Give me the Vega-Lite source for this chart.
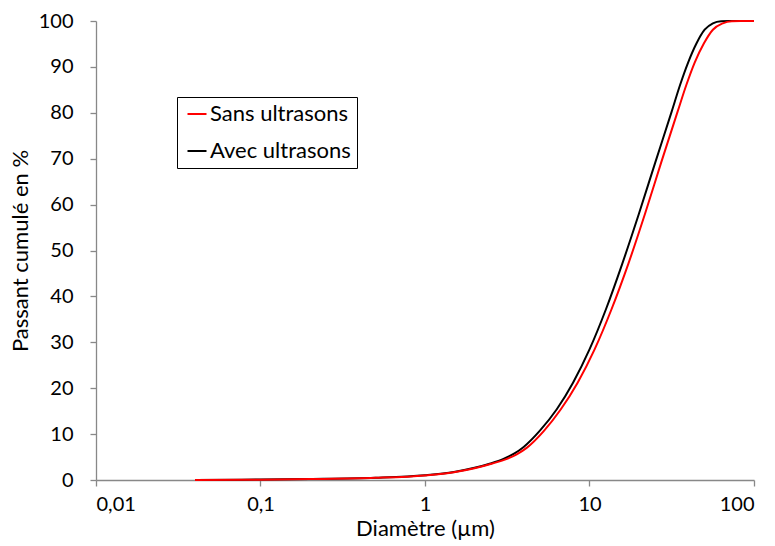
{
  "$schema": "https://vega.github.io/schema/vega-lite/v6.json",
  "width": 658,
  "height": 459,
  "autosize": "none",
  "padding": {"left": 96, "top": 21, "right": 21, "bottom": 66},
  "background": "white",
  "config": {
    "view": {"stroke": null},
    "font": "Lato",
    "axis": {"grid": false, "domainColor": "#888888", "tickColor": "#888888", "labelColor": "black", "titleColor": "black", "labelFont": "Lato", "titleFont": "Lato", "labelFontSize": 20, "titleFontSize": 22, "titleFontWeight": "normal", "tickSize": 6, "domainWidth": 1.3, "tickWidth": 1.3}
  },
  "data": {
    "values": [
      {"d": 0.04, "p": 0, "s": "Avec ultrasons"},
      {"d": 0.1, "p": 0.1, "s": "Avec ultrasons"},
      {"d": 0.2, "p": 0.22, "s": "Avec ultrasons"},
      {"d": 0.5, "p": 0.5, "s": "Avec ultrasons"},
      {"d": 1, "p": 1.05, "s": "Avec ultrasons"},
      {"d": 1.5, "p": 1.75, "s": "Avec ultrasons"},
      {"d": 2, "p": 2.65, "s": "Avec ultrasons"},
      {"d": 2.5, "p": 3.6, "s": "Avec ultrasons"},
      {"d": 3, "p": 4.6, "s": "Avec ultrasons"},
      {"d": 3.5, "p": 5.8, "s": "Avec ultrasons"},
      {"d": 3.98, "p": 7.2, "s": "Avec ultrasons"},
      {"d": 5.01, "p": 10.8, "s": "Avec ultrasons"},
      {"d": 6.31, "p": 15.35, "s": "Avec ultrasons"},
      {"d": 7.94, "p": 21.2, "s": "Avec ultrasons"},
      {"d": 10, "p": 28.45, "s": "Avec ultrasons"},
      {"d": 12.59, "p": 37.2, "s": "Avec ultrasons"},
      {"d": 15.85, "p": 47.2, "s": "Avec ultrasons"},
      {"d": 19.95, "p": 57.95, "s": "Avec ultrasons"},
      {"d": 25.12, "p": 69.2, "s": "Avec ultrasons"},
      {"d": 31.62, "p": 80.3, "s": "Avec ultrasons"},
      {"d": 35.48, "p": 86.0, "s": "Avec ultrasons"},
      {"d": 39.81, "p": 91.0, "s": "Avec ultrasons"},
      {"d": 44.67, "p": 95.1, "s": "Avec ultrasons"},
      {"d": 50.12, "p": 98.1, "s": "Avec ultrasons"},
      {"d": 56.23, "p": 99.5, "s": "Avec ultrasons"},
      {"d": 63.1, "p": 99.95, "s": "Avec ultrasons"},
      {"d": 70.79, "p": 100, "s": "Avec ultrasons"},
      {"d": 100, "p": 100, "s": "Avec ultrasons"},
      {"d": 0.04, "p": 0, "s": "Sans ultrasons"},
      {"d": 0.1, "p": 0.08, "s": "Sans ultrasons"},
      {"d": 0.2, "p": 0.2, "s": "Sans ultrasons"},
      {"d": 0.5, "p": 0.47, "s": "Sans ultrasons"},
      {"d": 1, "p": 1.0, "s": "Sans ultrasons"},
      {"d": 1.5, "p": 1.68, "s": "Sans ultrasons"},
      {"d": 2, "p": 2.55, "s": "Sans ultrasons"},
      {"d": 2.57, "p": 3.6, "s": "Sans ultrasons"},
      {"d": 3.09, "p": 4.5, "s": "Sans ultrasons"},
      {"d": 3.61, "p": 5.6, "s": "Sans ultrasons"},
      {"d": 4.15, "p": 7.0, "s": "Sans ultrasons"},
      {"d": 5.27, "p": 10.65, "s": "Sans ultrasons"},
      {"d": 6.68, "p": 15.35, "s": "Sans ultrasons"},
      {"d": 8.47, "p": 21.2, "s": "Sans ultrasons"},
      {"d": 10.74, "p": 28.45, "s": "Sans ultrasons"},
      {"d": 13.61, "p": 37.2, "s": "Sans ultrasons"},
      {"d": 17.26, "p": 47.2, "s": "Sans ultrasons"},
      {"d": 21.73, "p": 57.95, "s": "Sans ultrasons"},
      {"d": 27.29, "p": 69.2, "s": "Sans ultrasons"},
      {"d": 34.36, "p": 80.3, "s": "Sans ultrasons"},
      {"d": 38.73, "p": 86.0, "s": "Sans ultrasons"},
      {"d": 43.65, "p": 91.0, "s": "Sans ultrasons"},
      {"d": 49.55, "p": 95.1, "s": "Sans ultrasons"},
      {"d": 56.23, "p": 98.1, "s": "Sans ultrasons"},
      {"d": 64.57, "p": 99.5, "s": "Sans ultrasons"},
      {"d": 73.28, "p": 99.95, "s": "Sans ultrasons"},
      {"d": 83.18, "p": 100, "s": "Sans ultrasons"},
      {"d": 100, "p": 100, "s": "Sans ultrasons"}
    ]
  },
  "mark": {"type": "line", "strokeWidth": 2, "interpolate": "monotone"},
  "encoding": {
    "x": {
      "field": "d", "type": "quantitative",
      "scale": {"type": "log", "domain": [0.01, 100]},
      "axis": {"title": "Diamètre (µm)", "values": [0.01, 0.1, 1, 10, 100], "labelExpr": "replace(datum.value + '', '.', ',')", "labelPadding": 8, "titlePadding": 4}
    },
    "y": {
      "field": "p", "type": "quantitative",
      "scale": {"domain": [0, 100], "nice": false},
      "axis": {"title": "Passant cumulé en %", "values": [0, 10, 20, 30, 40, 50, 60, 70, 80, 90, 100], "labelPadding": 17, "titlePadding": 6}
    },
    "color": {
      "field": "s", "type": "nominal",
      "scale": {"domain": ["Sans ultrasons", "Avec ultrasons"], "range": ["#ff0000", "#000000"]},
      "legend": {"title": null, "orient": "none", "legendX": 81, "legendY": 76, "strokeColor": "black", "fillColor": "white", "padding": 6, "symbolType": "stroke", "symbolSize": 361, "symbolStrokeWidth": 2, "labelFontSize": 22, "labelFont": "Lato", "labelColor": "black", "rowPadding": 15, "symbolOffset": 3, "labelOffset": 2}
    }
  }
}
